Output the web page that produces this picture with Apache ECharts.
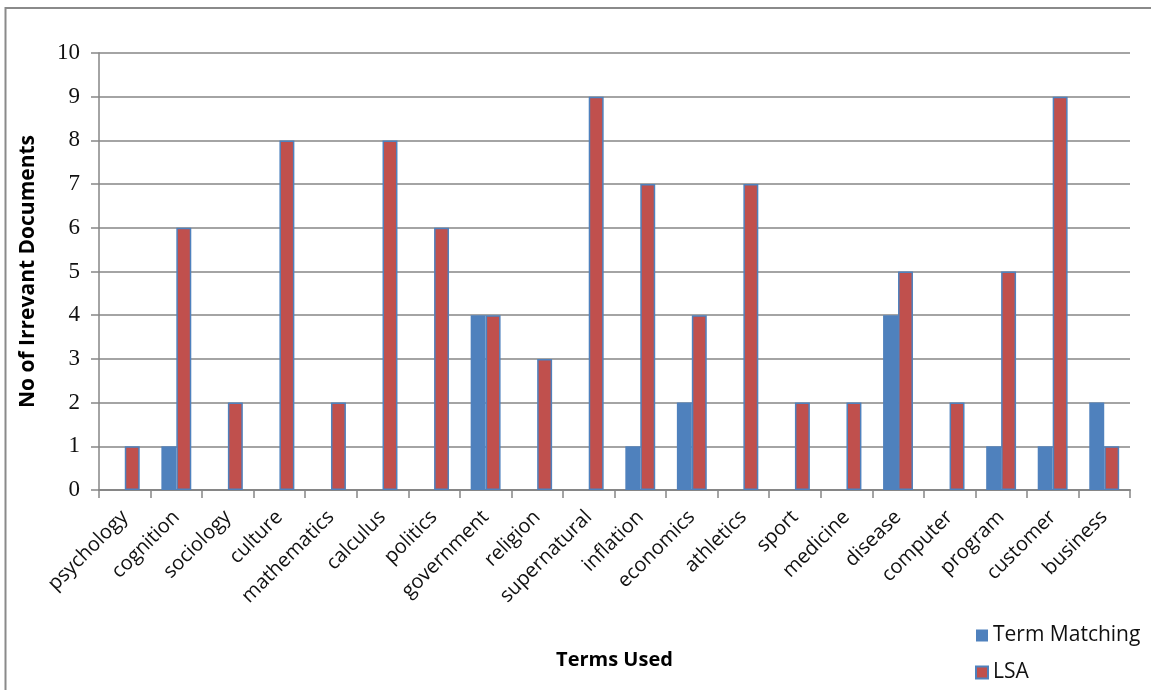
<!DOCTYPE html>
<html>
<head>
<meta charset="utf-8">
<script src="https://cdn.jsdelivr.net/npm/echarts@6/dist/echarts.min.js"></script>
<style>
  html, body { margin: 0; padding: 0; background: #fff; }
  #chart { width: 1151px; height: 690px; }
</style>
</head>
<body>
<div id="chart"></div>
<script>
// terms and number of irrelevant documents per method
var terms = ['psychology', 'cognition', 'sociology', 'culture', 'mathematics', 'calculus',
    'politics', 'government', 'religion', 'supernatural', 'inflation', 'economics',
    'athletics', 'sport', 'medicine', 'disease', 'computer', 'program', 'customer', 'business'];
var termMatching = [0, 1, 0, 0, 0, 0, 0, 4, 0, 0, 1, 2, 0, 0, 0, 4, 0, 1, 1, 2];
var lsa = [1, 6, 2, 8, 2, 8, 6, 4, 3, 9, 7, 4, 7, 2, 2, 5, 2, 5, 9, 1];
var yTicks = [0, 10, 1];

var chart = echarts.init(document.getElementById('chart'));

var option = {
    animation: false,
    backgroundColor: '#fff',
    graphic: [
        {
            type: 'rect',
            shape: { x: 5.5, y: 8, width: 1200, height: 800 },
            style: { fill: 'none', stroke: '#8a8a8a', lineWidth: 2 }
        }
    ],
    legend: {
        orient: 'vertical',
        left: 970,
        top: 620,
        itemWidth: 12,
        itemHeight: 12,
        itemGap: 16,
        icon: 'rect',
        textStyle: { fontFamily: 'Open Sans', fontSize: 21, color: '#111' },
        data: ['Term Matching', 'LSA']
    },
    grid: {
        left: 99,
        right: 21,
        top: 53,
        bottom: 200,
        containLabel: false
    },
    xAxis: {
        type: 'category',
        data: terms,
        name: 'Terms Used',
        nameLocation: 'middle',
        nameGap: 160,
        nameTextStyle: { fontFamily: 'Open Sans', fontWeight: 'bold', fontSize: 20, color: '#000' },
        axisLine: { lineStyle: { color: '#868686', width: 2 } },
        axisTick: { show: true, length: 8, lineStyle: { color: '#868686', width: 1.5 } },
        axisLabel: {
            rotate: 45,
            margin: 24,
            interval: 0,
            fontFamily: 'Open Sans',
            fontSize: 20,
            color: '#111'
        }
    },
    yAxis: {
        type: 'value',
        min: yTicks[0],
        max: yTicks[1],
        interval: yTicks[2],
        name: 'No of Irrevant Documents',
        nameLocation: 'middle',
        nameGap: 60,
        nameTextStyle: { fontFamily: 'Open Sans', fontWeight: 'bold', fontSize: 21, color: '#000' },
        axisLine: { show: true, lineStyle: { color: '#868686', width: 1.5 } },
        axisTick: { show: true, length: 8, lineStyle: { color: '#868686', width: 1.5 } },
        axisLabel: {
            margin: 19,
            fontFamily: 'Liberation Serif',
            fontSize: 23,
            color: '#111'
        },
        splitLine: { lineStyle: { color: '#868686', width: 1.5 } }
    },
    series: [
        {
            name: 'Term Matching',
            type: 'bar',
            data: termMatching,
            barGap: '0%',
            barCategoryGap: '42%',
            itemStyle: { color: '#4F81BD' }
        },
        {
            name: 'LSA',
            type: 'bar',
            data: lsa,
            itemStyle: { color: '#C0504D', borderColor: '#4F81BD', borderWidth: 1.5 }
        }
    ]
};

chart.setOption(option);
</script>
</body>
</html>
